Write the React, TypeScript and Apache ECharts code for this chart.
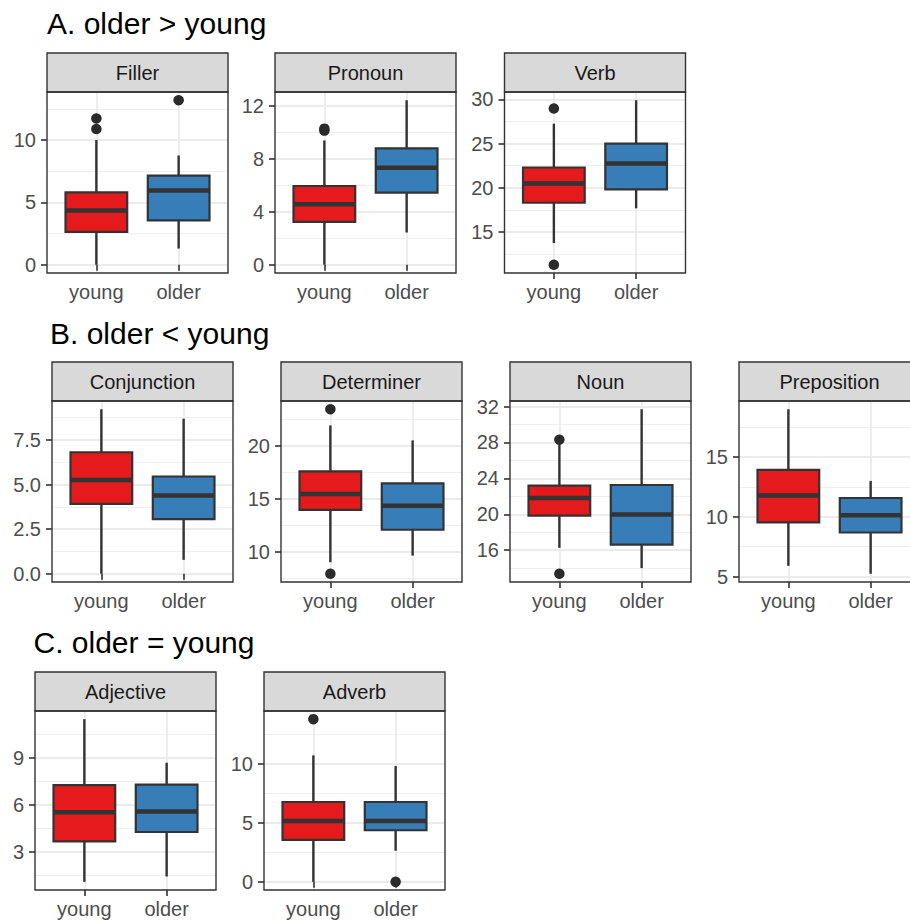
import React, { useEffect, useRef } from "react";
import * as echarts from "echarts";

const groups = ["young", "older"];
const groupFill = ["#E41A1C", "#377EB8"];

// Box summaries per group: [lower whisker, Q1, median, Q3, upper whisker]
const fillerYoung = [0, 2.63, 4.35, 5.81, 10.0];
const fillerOlder = [1.3, 3.56, 5.95, 7.14, 8.76];
const fillerOutYoung = [10.88, 11.73];
const fillerOutOlder = [13.19];
const fillerTicks = [0, 5, 10];

const pronounYoung = [0, 3.25, 4.58, 5.96, 9.41];
const pronounOlder = [2.44, 5.46, 7.35, 8.81, 12.45];
const pronounOutYoung = [10.15, 10.3];
const pronounOutOlder: number[] = [];
const pronounTicks = [0, 4, 8, 12];

const verbYoung = [13.75, 18.31, 20.49, 22.29, 27.24];
const verbOlder = [17.68, 19.81, 22.74, 24.99, 29.89];
const verbOutYoung = [28.95, 11.3];
const verbOutOlder: number[] = [];
const verbTicks = [15, 20, 25, 30];

const conjunctionYoung = [0, 3.92, 5.26, 6.81, 9.22];
const conjunctionOlder = [0.78, 3.06, 4.38, 5.45, 8.69];
const conjunctionOutYoung: number[] = [];
const conjunctionOutOlder: number[] = [];
const conjunctionTicks = [0, 2.5, 5, 7.5];

const determinerYoung = [9.05, 13.97, 15.47, 17.59, 21.92];
const determinerOlder = [9.67, 12.1, 14.35, 16.47, 20.51];
const determinerOutYoung = [23.44, 7.96];
const determinerOutOlder: number[] = [];
const determinerTicks = [10, 15, 20];

const nounYoung = [16.26, 19.85, 21.81, 23.18, 27.8];
const nounOlder = [14.0, 16.62, 19.96, 23.26, 31.7];
const nounOutYoung = [28.3, 13.37];
const nounOutOlder: number[] = [];
const nounTicks = [16, 20, 24, 28, 32];

const prepositionYoung = [5.9, 9.53, 11.78, 13.94, 19.02];
const prepositionOlder = [5.23, 8.69, 10.14, 11.58, 13.01];
const prepositionOutYoung: number[] = [];
const prepositionOutOlder: number[] = [];
const prepositionTicks = [5, 10, 15];

const adjectiveYoung = [1.11, 3.69, 5.54, 7.26, 11.46];
const adjectiveOlder = [1.45, 4.28, 5.58, 7.3, 8.69];
const adjectiveOutYoung: number[] = [];
const adjectiveOutOlder: number[] = [];
const adjectiveTicks = [3, 6, 9];

const adverbYoung = [0, 3.55, 5.14, 6.75, 10.69];
const adverbOlder = [2.63, 4.36, 5.14, 6.75, 9.78];
const adverbOutYoung = [13.75];
const adverbOutOlder = [0];
const adverbTicks = [0, 5, 10];

const rowTitles = ["A. older > young", "B. older < young", "C. older = young"];

type Panel = {
  name: string;
  row: number;
  young: number[];
  older: number[];
  outYoung: number[];
  outOlder: number[];
  ticks: number[];
  decimals: number;
};

const panels: Panel[] = [
  { name: "Filler", row: 0, young: fillerYoung, older: fillerOlder, outYoung: fillerOutYoung, outOlder: fillerOutOlder, ticks: fillerTicks, decimals: 0 },
  { name: "Pronoun", row: 0, young: pronounYoung, older: pronounOlder, outYoung: pronounOutYoung, outOlder: pronounOutOlder, ticks: pronounTicks, decimals: 0 },
  { name: "Verb", row: 0, young: verbYoung, older: verbOlder, outYoung: verbOutYoung, outOlder: verbOutOlder, ticks: verbTicks, decimals: 0 },
  { name: "Conjunction", row: 1, young: conjunctionYoung, older: conjunctionOlder, outYoung: conjunctionOutYoung, outOlder: conjunctionOutOlder, ticks: conjunctionTicks, decimals: 1 },
  { name: "Determiner", row: 1, young: determinerYoung, older: determinerOlder, outYoung: determinerOutYoung, outOlder: determinerOutOlder, ticks: determinerTicks, decimals: 0 },
  { name: "Noun", row: 1, young: nounYoung, older: nounOlder, outYoung: nounOutYoung, outOlder: nounOutOlder, ticks: nounTicks, decimals: 0 },
  { name: "Preposition", row: 1, young: prepositionYoung, older: prepositionOlder, outYoung: prepositionOutYoung, outOlder: prepositionOutOlder, ticks: prepositionTicks, decimals: 0 },
  { name: "Adjective", row: 2, young: adjectiveYoung, older: adjectiveOlder, outYoung: adjectiveOutYoung, outOlder: adjectiveOutOlder, ticks: adjectiveTicks, decimals: 0 },
  { name: "Adverb", row: 2, young: adverbYoung, older: adverbOlder, outYoung: adverbOutYoung, outOlder: adverbOutOlder, ticks: adverbTicks, decimals: 0 },
];

// Page layout (pixels)
const FONT = "'Liberation Sans', Arial, Helvetica, sans-serif";
const PANEL_W = 181;
const STRIP_H = 39;
const LABEL_SIZE = 20;
const rowLayout = [
  { titleX: 47, titleY: 23, stripTop: 53, plotH: 181, lefts: [47, 275, 504.5] },
  { titleX: 50, titleY: 333, stripTop: 362, plotH: 181, lefts: [52, 281, 510, 739] },
  { titleX: 33.5, titleY: 642, stripTop: 672, plotH: 179, lefts: [35, 264] },
];

function buildOption() {
  const grids: any[] = [];
  const xAxes: any[] = [];
  const yAxes: any[] = [];
  const series: any[] = [];
  const graphics: any[] = [];

  rowTitles.forEach((t, r) => {
    graphics.push({
      type: "text",
      x: rowLayout[r].titleX,
      y: rowLayout[r].titleY,
      z: 100,
      style: { text: t, fontSize: 30, fontFamily: FONT, fill: "#000000", verticalAlign: "middle", align: "left" },
    });
  });

  const colInRow = [0, 0, 0];
  panels.forEach((p, i) => {
    const rl = rowLayout[p.row];
    const left = rl.lefts[colInRow[p.row]++];
    const top = rl.stripTop + STRIP_H;
    const h = rl.plotH;

    // y range: data extent with 5% padding on each side
    const all = [...p.young, ...p.older, ...p.outYoung, ...p.outOlder];
    const lo = Math.min(...all);
    const hi = Math.max(...all);
    const pad = (hi - lo) * 0.05;
    const step = p.ticks[1] - p.ticks[0];

    grids.push({ left, top, width: PANEL_W, height: h, show: false, outerBoundsMode: "none", containLabel: false });

    xAxes.push({
      gridIndex: i,
      type: "value",
      min: 0.4,
      max: 2.6,
      axisLine: { show: false },
      axisTick: { show: true, length: 6, customValues: [1, 2], lineStyle: { color: "#333333", width: 1.6 } },
      axisLabel: {
        customValues: [1, 2],
        formatter: (v: number) => groups[Math.round(v) - 1],
        margin: 9,
        fontSize: LABEL_SIZE,
        fontFamily: FONT,
        color: "#4D4D4D",
      },
      splitLine: { show: true, lineStyle: { color: "#EBEBEB", width: 1.8 } },
      minorSplitLine: { show: false },
    });

    yAxes.push({
      gridIndex: i,
      type: "value",
      min: lo - pad,
      max: hi + pad,
      minInterval: step,
      maxInterval: step,
      splitNumber: 3,
      axisLine: { show: false },
      axisTick: { show: true, length: 6, customValues: p.ticks, lineStyle: { color: "#333333", width: 1.6 } },
      axisLabel: {
        customValues: p.ticks,
        formatter: (v: number) => v.toFixed(p.decimals),
        margin: 11,
        fontSize: LABEL_SIZE,
        fontFamily: FONT,
        color: "#4D4D4D",
      },
      splitLine: { show: true, lineStyle: { color: "#EBEBEB", width: 1.8 } },
      minorTick: { show: false, splitNumber: 2 },
      minorSplitLine: { show: true, lineStyle: { color: "#EFEFEF", width: 1 } },
    });

    series.push({
      type: "custom",
      xAxisIndex: i,
      yAxisIndex: i,
      encode: { x: 0, y: [1, 2, 3, 4, 5] },
      data: [
        [1, ...p.young],
        [2, ...p.older],
      ],
      z: 3,
      renderItem: (params: any, api: any) => {
        const g = api.value(0);
        const pLo = api.coord([g, api.value(1)]);
        const pQ1 = api.coord([g, api.value(2)]);
        const pMed = api.coord([g, api.value(3)]);
        const pQ3 = api.coord([g, api.value(4)]);
        const pHi = api.coord([g, api.value(5)]);
        const half = api.size([0.75, 0])[0] / 2;
        const cx = pMed[0];
        const stroke = "#333333";
        return {
          type: "group",
          children: [
            { type: "line", shape: { x1: cx, y1: pHi[1], x2: cx, y2: pQ3[1] }, style: { stroke, lineWidth: 2.4 } },
            { type: "line", shape: { x1: cx, y1: pQ1[1], x2: cx, y2: pLo[1] }, style: { stroke, lineWidth: 2.4 } },
            {
              type: "rect",
              shape: { x: cx - half, y: pQ3[1], width: half * 2, height: pQ1[1] - pQ3[1] },
              style: { fill: groupFill[Math.round(g) - 1], stroke, lineWidth: 2.2 },
            },
            { type: "line", shape: { x1: cx - half, y1: pMed[1], x2: cx + half, y2: pMed[1] }, style: { stroke, lineWidth: 4.5 } },
          ],
        };
      },
    });

    series.push({
      type: "scatter",
      xAxisIndex: i,
      yAxisIndex: i,
      symbol: "circle",
      symbolSize: 10.5,
      z: 4,
      itemStyle: { color: "#2B2B2B", opacity: 1 },
      data: [...p.outYoung.map((v) => [1, v]), ...p.outOlder.map((v) => [2, v])],
    });

    // facet strip
    graphics.push({
      type: "rect",
      z: 100,
      shape: { x: left, y: rl.stripTop, width: PANEL_W, height: STRIP_H },
      style: { fill: "#D9D9D9", stroke: "#333333", lineWidth: 1.4 },
    });
    graphics.push({
      type: "text",
      z: 101,
      x: left + PANEL_W / 2,
      y: rl.stripTop + STRIP_H / 2,
      style: { text: p.name, fontSize: LABEL_SIZE, fontFamily: FONT, fill: "#1A1A1A", align: "center", verticalAlign: "middle" },
    });
    // panel border
    graphics.push({
      type: "rect",
      z: 100,
      shape: { x: left, y: top, width: PANEL_W, height: h },
      style: { fill: "transparent", stroke: "#333333", lineWidth: 1.4 },
    });
  });

  return {
    animation: false,
    backgroundColor: "#FFFFFF",
    grid: grids,
    xAxis: xAxes,
    yAxis: yAxes,
    series,
    graphic: graphics,
  };
}

export default function App() {
  const ref = useRef<HTMLDivElement>(null);
  useEffect(() => {
    if (!ref.current) return;
    const chart = echarts.init(ref.current, undefined, { renderer: "svg" });
    chart.setOption(buildOption() as any);
    return () => chart.dispose();
  }, []);
  return (
    <div
      ref={ref}
      style={{ position: "fixed", left: 0, top: 0, width: 910, height: 920, background: "#FFFFFF" }}
    />
  );
}
